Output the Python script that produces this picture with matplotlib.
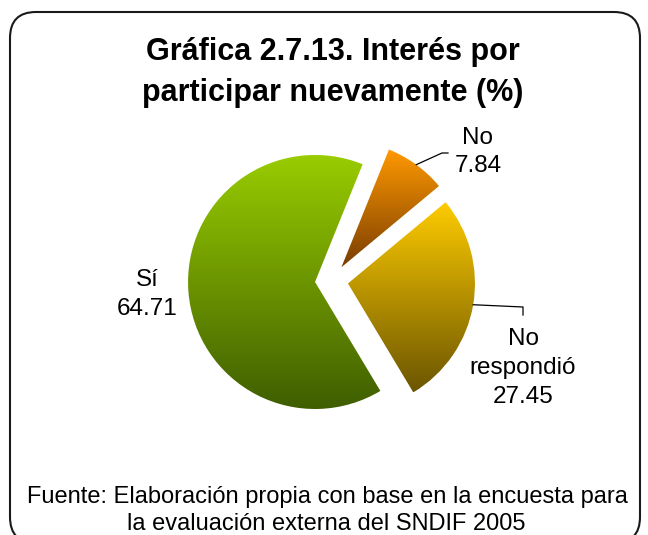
#!/usr/bin/env python3
# -*- coding: utf-8 -*-
"""
Pie chart: Interés por participar nuevamente (%).
"""

import numpy as np
import matplotlib
matplotlib.use('Agg')
import matplotlib.pyplot as plt
from matplotlib.colors import to_rgb
from matplotlib.patches import FancyBboxPatch

categories = ['No', 'No respondió', 'Sí']
values = [7.84, 27.45, 64.71]
top_colors = ['#FF9900', '#FFCC00', '#99CC00']
bottom_colors = ['#7A3D00', '#6B5500', '#3F5E00']

title_lines = ['Gráfica 2.7.13. Interés por', 'participar nuevamente (%)']
footer_lines = ['Fuente: Elaboración propia con base en la encuesta para',
                'la evaluación externa del SNDIF 2005']

W, H = 648, 535
FONT = 'Liberation Sans'


def gradient_fill(ax, wedge, top, bottom):
    """Fill a wedge with a vertical gradient from top to bottom."""
    ext = wedge.get_path().get_extents()
    t = np.linspace(0, 1, 256).reshape(-1, 1, 1)
    img = (1 - t) * np.array(to_rgb(top)) + t * np.array(to_rgb(bottom))
    im = ax.imshow(img, extent=(ext.x0, ext.x1, ext.y0, ext.y1),
                   origin='upper', aspect='auto', interpolation='bilinear',
                   zorder=2)
    im.set_clip_path(wedge)
    wedge.set_facecolor('none')


def main():
    fig = plt.figure(figsize=(W / 100, H / 100), dpi=100)
    ax = fig.add_axes([0, 0, 1, 1])

    wedges, _ = ax.pie(values, explode=[16.6] * len(values), startangle=68,
                       counterclock=False, radius=127, center=(331.6, 254.3),
                       frame=True, wedgeprops=dict(linewidth=0))
    for wedge, top, bottom in zip(wedges, top_colors, bottom_colors):
        gradient_fill(ax, wedge, top, bottom)

    ax.set_xlim(0, W)
    ax.set_ylim(0, H)
    ax.set_aspect('auto')
    ax.axis('off')

    # rounded frame
    frame = FancyBboxPatch((10, -8), 630, 531,
                           boxstyle='round,pad=0,rounding_size=26',
                           facecolor='none', edgecolor='#1a1a1a',
                           linewidth=1.5, clip_on=False, zorder=1)
    ax.add_patch(frame)

    # title and footer (image y -> data y)
    ax.text(333, H - 60, title_lines[0], ha='center', va='baseline',
            fontsize=22, fontweight='bold', family=FONT)
    ax.text(333, H - 101, title_lines[1], ha='center', va='baseline',
            fontsize=22, fontweight='bold', family=FONT)
    ax.text(327, H - 503, footer_lines[0], ha='center', va='baseline',
            fontsize=17, family=FONT)
    ax.text(326, H - 530, footer_lines[1], ha='center', va='baseline',
            fontsize=17, family=FONT)

    # data labels with leader lines
    label_pos = [(478, 152), (523, 368), (147, 294.5)]
    leader_end = [[(442, 153), (448, 153)], [(523, 307), (523, 315)], None]
    for wedge, cat, val, pos, lead in zip(wedges, categories, values,
                                          label_pos, leader_end):
        ax.text(pos[0], H - pos[1], '%s\n%.2f' % (cat.replace(' ', '\n'), val),
                ha='center', va='center', fontsize=17.5, family=FONT,
                linespacing=1.4)
        if lead is not None:
            mid = np.radians((wedge.theta1 + wedge.theta2) / 2)
            cx, cy = wedge.center
            xs = [cx + wedge.r * np.cos(mid)] + [p[0] for p in lead]
            ys = [cy + wedge.r * np.sin(mid)] + [H - p[1] for p in lead]
            ax.plot(xs, ys, color='black', linewidth=0.9, zorder=3)

    fig.savefig('out.png', dpi=100)
    plt.close(fig)


if __name__ == '__main__':
    main()
